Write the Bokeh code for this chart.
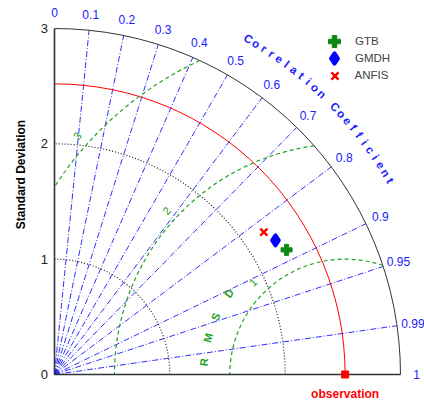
import numpy as np
from bokeh.plotting import figure
from bokeh.models import ColumnDataSource, Legend, LegendItem, Range1d
from bokeh.core.properties import value
from bokeh.embed import file_html
from bokeh.resources import INLINE

# ---------------- data ----------------
models = ["GTB", "GMDH", "ANFIS"]
model_std = [2.284, 2.241, 2.195]
model_corr = [0.881, 0.855, 0.827]
model_marker = ["plus", "diamond", "x"]
model_color = ["#118811", "#0000ff", "#ff0000"]

obs_std = 2.52
std_ticks = [0, 1, 2, 3]
std_tick_labels = ["0", "1", "2", "3"]
std_arcs = [1, 2]
corr_ticks = [0.1, 0.2, 0.3, 0.4, 0.5, 0.6, 0.7, 0.8, 0.9, 0.95, 0.99]
corr_labels = ["0", "0.1", "0.2", "0.3", "0.4", "0.5", "0.6", "0.7", "0.8", "0.9", "0.95", "0.99", "1"]
corr_label_vals = [0, 0.1, 0.2, 0.3, 0.4, 0.5, 0.6, 0.7, 0.8, 0.9, 0.95, 0.99, 1.0]
rms_levels = [1, 2, 3]
R_MAX = 3.0

FONT = value("Liberation Sans")
BLUE = "#1a1aff"
GREEN = "#22a022"

# ---------------- figure ----------------
scale = 115.33  # pixels per unit (both axes)
p = figure(width=424, height=402, output_backend="svg", toolbar_location=None,
           x_range=Range1d(-54 / scale, 370 / scale), y_range=Range1d(-28 / scale, 374 / scale),
           min_border=0, x_axis_location=None, y_axis_location=None)
p.grid.visible = False
p.outline_line_color = None
p.background_fill_color = "white"
p.border_fill_color = "white"

# correlation rays
ct = np.array(corr_ticks)
th = np.arccos(ct)
p.segment(x0=np.zeros_like(ct), y0=np.zeros_like(ct), x1=R_MAX * np.cos(th), y1=R_MAX * np.sin(th),
          line_color=BLUE, line_width=1, line_dash="6 2 1 2", line_alpha=0.9)

# std dotted arcs
p.arc(x=[0] * len(std_arcs), y=[0] * len(std_arcs), radius=std_arcs, start_angle=0, end_angle=np.pi / 2,
      line_color="#222222", line_dash="1 2", line_width=1.2)
# outer arc
p.arc(x=[0], y=[0], radius=[R_MAX], start_angle=0, end_angle=np.pi / 2, line_color="#333333", line_width=1)
# observation std arc
p.arc(x=[0], y=[0], radius=[obs_std], start_angle=0, end_angle=np.pi / 2, line_color="#ff0000", line_width=1)

# RMSD arcs (clipped to the diagram)
rl = np.array(rms_levels, dtype=float)
cosa = np.clip((R_MAX ** 2 - obs_std ** 2 - rl ** 2) / (2 * obs_std * rl), -1, 1)
start = np.arccos(cosa)
cosb = -obs_std / rl
end = np.where(cosb >= -1, np.arccos(np.clip(cosb, -1, 1)), np.pi)
p.arc(x=[obs_std] * len(rl), y=[0] * len(rl), radius=rl, start_angle=start, end_angle=end,
      line_color=GREEN, line_dash="4 3", line_width=1.2)

# axis lines
p.segment(x0=[0, 0], y0=[0, 0], x1=[R_MAX, 0], y1=[0, R_MAX], line_color="#333333", line_width=1.6)

# y tick labels and axis title
p.text(x=[-6.5 / scale] * len(std_ticks), y=std_ticks, text=std_tick_labels, text_font=FONT,
       text_font_size="13px", text_color="#222222", text_align="right", text_baseline="middle")
p.text(x=[-34 / scale], y=[200 / scale], text=["Standard Deviation"], angle=90, angle_units="deg",
       text_font=FONT, text_font_size="12px", text_font_style="bold", text_color="black",
       text_align="center", text_baseline="middle")

# RMSD contour labels
lab_ang = np.deg2rad([135.0, 137.5, 138.3])
lab_r = np.array([1.13, 2.10, 3.11])
p.text(x=obs_std + lab_r * np.cos(lab_ang), y=lab_r * np.sin(lab_ang), text=[str(v) for v in rms_levels],
       angle=np.rad2deg(lab_ang) - 90, angle_units="deg", text_font=FONT, text_font_size="11px",
       text_color=GREEN, text_align="center", text_baseline="middle")

# "RMSD" letters along arc
rmsd_ang = np.deg2rad([175.0, 165.0, 156.0, 145.0])
p.text(x=obs_std + 1.23 * np.cos(rmsd_ang), y=1.23 * np.sin(rmsd_ang), text=list("RMSD"),
       angle=np.rad2deg(rmsd_ang) - 90, angle_units="deg", text_font=FONT, text_font_size="11px",
       text_font_style="bold", text_color=GREEN, text_align="center", text_baseline="middle")

# correlation labels
clv = np.array(corr_label_vals)
cth = np.arccos(clv)
lab_src = ColumnDataSource(dict(x=3.14 * np.cos(cth), y=3.14 * np.sin(cth), text=corr_labels))
p.text(x="x", y="y", text="text", source=lab_src, text_font=FONT, text_font_size="12px",
       text_color=BLUE, text_align="center", text_baseline="middle")

# curved title
title = "Correlation Coefficient"
n = len(title)
tang = np.deg2rad(60 - np.arange(n) * 30.0 / (n - 1))
p.text(x=3.36 * np.cos(tang), y=3.36 * np.sin(tang), text=list(title),
       angle=np.rad2deg(tang) - 90, angle_units="deg", text_font=FONT, text_font_size="11.5px",
       text_font_style="bold", text_color=BLUE, text_align="center", text_baseline="middle")

# observation
p.scatter(x=[obs_std], y=[0], marker="square", size=7, fill_color="#ff0000", line_color="#ff0000")
p.text(x=[obs_std], y=[-0.165], text=["observation"], text_font=FONT, text_font_size="12px",
       text_font_style="bold", text_color="#ff0000", text_align="center", text_baseline="middle")

# models
renderers = []
for name, s, c, m, col in zip(models, model_std, model_corr, model_marker, model_color):
    t = np.arccos(c)
    if m == "x":
        r = p.scatter(x=[s * np.cos(t)], y=[s * np.sin(t)], marker=m, size=10, line_color=col, line_width=2.5)
    elif m == "plus":
        r = p.scatter(x=[s * np.cos(t)], y=[s * np.sin(t)], marker=m, size=11, fill_color=col, line_color=col)
    else:
        r = p.scatter(x=[s * np.cos(t)], y=[s * np.sin(t)], marker=m, size=10, line_width=4,
                      line_join="round", fill_color=col, line_color=col)
    renderers.append(r)

# one legend per entry (marker sizes follow the glyph box)
leg_box = [30, 26, 25]
leg_center_y = [41, 58, 75]
for name, r, box, cy in zip(models, renderers, leg_box, leg_center_y):
    leg = Legend(items=[LegendItem(label=name, renderers=[r])],
                 location=(334 - box / 2, 402 - (cy + box / 2)), glyph_width=box, glyph_height=box,
                 label_height=box, padding=0, margin=0, spacing=0, label_standoff=int(355 - (334 + box / 2)),
                 label_text_font="Liberation Sans", label_text_font_size="11.5px",
                 border_line_color=None, background_fill_alpha=0)
    p.add_layout(leg)

open("out.html", "w").write(file_html(p, INLINE))
